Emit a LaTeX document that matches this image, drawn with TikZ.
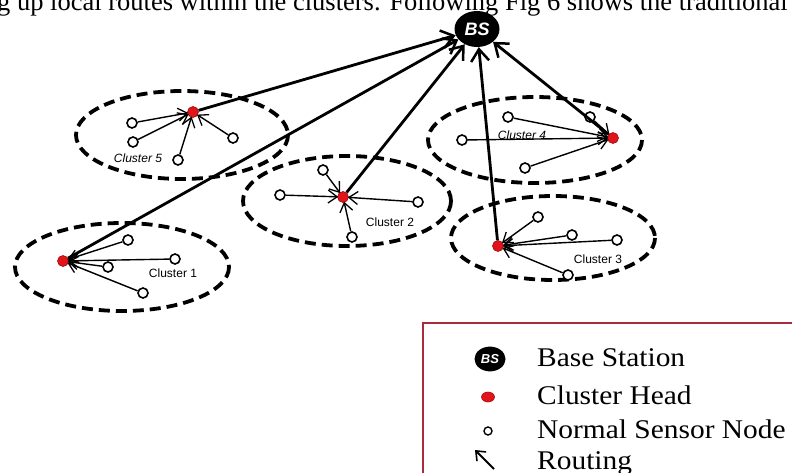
\documentclass[tikz,border=0pt]{standalone}
\usepackage{fontspec}
\setmainfont{Liberation Serif}
\newfontfamily\labelfont{Liberation Sans}
\usetikzlibrary{arrows.meta,shapes.geometric}
\definecolor{chred}{RGB}{225,20,25}
\definecolor{legendrose}{RGB}{165,45,60}
\tikzset{
  cluster/.style={draw=black,line width=3.8pt,dash pattern=on 11pt off 6pt},
  ch/.style={circle,fill=chred,draw=chred!70!black,line width=0.6pt,minimum size=11pt,inner sep=0pt},
  sn/.style={circle,fill=white,draw=black,line width=1.6pt,minimum size=10pt,inner sep=0pt},
  link/.style={line width=1.4pt,-{Straight Barb[length=9pt,width=13pt,line width=1.3pt]},shorten >=-1pt},
  uplink/.style={line width=2.8pt,-{Straight Barb[length=12pt,width=18pt,line width=2.5pt]}},
  clabel/.style={font=\labelfont\fontsize{12}{12}\selectfont,inner sep=0pt},
  iclabel/.style={font=\labelfont\itshape\fontsize{12}{12}\selectfont,inner sep=0pt},
  bs/.style={ellipse,fill=black,minimum width=#1,minimum height=0.8*#1,inner sep=0pt},
  legtext/.style={anchor=base west,font=\fontsize{27}{27}\selectfont,inner sep=0pt}
}
\newcommand\widetext[1]{\scalebox{1.09}[1]{#1}}
\begin{document}
\begin{tikzpicture}[x=1pt,y=-1pt]
\useasboundingbox (0,0) rectangle (792,473);
\clip (0,0) rectangle (792,473);

% running text of the page above the figure
\node[anchor=base west,inner sep=0pt,font=\fontsize{26.5}{26.5}\selectfont] (runtext) at (-3,11)
  {g up local routes within the clusters. Following Fig 6 shows the traditional};

% cluster boundaries
\draw[cluster] (182,135) ellipse [x radius=106,y radius=44];
\draw[cluster] (347,201) ellipse [x radius=104,y radius=45];
\draw[cluster] (535,140) ellipse [x radius=107,y radius=43];
\draw[cluster] (553,238) ellipse [x radius=102,y radius=42];
\draw[cluster] (122,267) ellipse [x radius=107,y radius=44];

% base station
\node[bs=45pt,font=\labelfont\bfseries\itshape\fontsize{18}{18}\selectfont\color{white}] (bs) at (477,29) {BS};

% cluster heads
\node[ch] (c5) at (193,112) {};
\node[ch] (c2) at (343,197) {};
\node[ch] (c4) at (613,138) {};
\node[ch] (c3) at (498,246) {};
\node[ch] (c1) at (63,261) {};

% sensor nodes
\node[sn] (s51) at (132,123) {};
\node[sn] (s52) at (133,142) {};
\node[sn] (s53) at (178,160) {};
\node[sn] (s54) at (233,138) {};

\node[sn] (s21) at (323,170) {};
\node[sn] (s22) at (280,195) {};
\node[sn] (s23) at (418,202) {};
\node[sn] (s24) at (352,237) {};

\node[sn] (s41) at (508,117) {};
\node[sn] (s42) at (590,117) {};
\node[sn] (s43) at (462,140) {};
\node[sn] (s44) at (525,168) {};

\node[sn] (s31) at (538,217) {};
\node[sn] (s32) at (572,235) {};
\node[sn] (s33) at (617,240) {};
\node[sn] (s34) at (568,275) {};

\node[sn] (s11) at (128,240) {};
\node[sn] (s12) at (175,259) {};
\node[sn] (s13) at (108,267) {};
\node[sn] (s14) at (143,293) {};

% routes inside the clusters
\foreach \c/\s in {c5/s51,c5/s52,c5/s53,c5/s54,
                   c2/s21,c2/s22,c2/s23,c2/s24,
                   c4/s41,c4/s42,c4/s43,c4/s44,
                   c3/s31,c3/s32,c3/s33,c3/s34,
                   c1/s11,c1/s12,c1/s13,c1/s14}
  \draw[link] (\s) -- (\c);

% routes from the cluster heads to the base station
\draw[uplink] (c5) -- (bs);
\draw[uplink] (c1) -- (bs);
\draw[uplink] (c2) -- (bs);
\draw[uplink] (c3) -- (bs);
\draw[uplink] (c4) -- (bs);

% cluster names
\node[iclabel] (l5) at (138,158) {Cluster 5};
\node[clabel] (l2) at (390,222) {Cluster 2};
\node[iclabel] (l4) at (522,135) {Cluster 4};
\node[clabel] (l3) at (598,259) {Cluster 3};
\node[clabel] (l1) at (173,273) {Cluster 1};

% legend
\draw[legendrose,line width=1.3pt] (423,323) rectangle (820,500);
\node[bs=31pt,font=\labelfont\bfseries\itshape\fontsize{13}{13}\selectfont\color{white}] (kbs) at (490,359) {BS};
\node[legtext] (tbs) at (537,366) {\widetext{Base Station}};
\node[ch,minimum width=13pt,minimum height=10pt,ellipse] (kch) at (488,397) {};
\node[legtext] (tch) at (537,404) {\widetext{Cluster Head}};
\node[sn,minimum size=8pt,line width=1.4pt] (ksn) at (488,431) {};
\node[legtext] (tsn) at (537,438) {\widetext{Normal Sensor Node}};
\coordinate (ka) at (494,469);
\coordinate (kb) at (475,450);
\draw[line width=1.8pt,-{Straight Barb[length=8pt,width=13pt,line width=1.6pt]}] (ka) -- (kb);
\node[legtext] (trt) at (537,469) {\widetext{Routing}};
\end{tikzpicture}
\end{document}
